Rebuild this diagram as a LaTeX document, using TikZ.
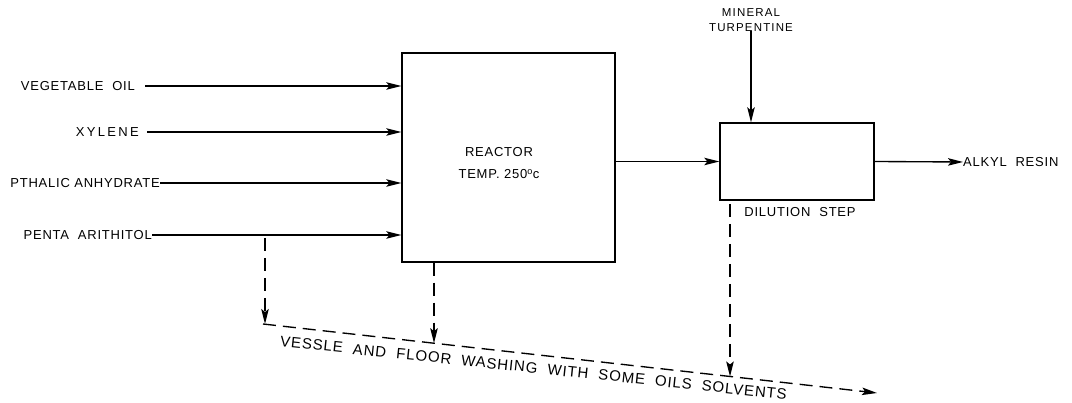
\documentclass[tikz,border=0pt]{standalone}
\usepackage{fontspec}
\setmainfont{Liberation Sans}
\newfontfamily\lsp[LetterSpace=6]{Liberation Sans}
\newfontfamily\lspw[LetterSpace=10]{Liberation Sans}
\newfontfamily\lspv[LetterSpace=6]{Liberation Sans}
\newfontfamily\lspx[LetterSpace=18]{Liberation Sans}
\usetikzlibrary{arrows.meta,calc}
\begin{document}
\begin{tikzpicture}[x=1pt,y=-1pt,
  arr/.style={line width=1.35pt,-{Stealth[length=15pt,width=7.5pt,inset=3pt]}},
  dsh/.style={arr,dash pattern=on 13pt off 7pt},
  box/.style={draw,line width=1.35pt,inner sep=0pt},
  lab/.style={inner sep=0pt,font=\fontsize{13}{15}\selectfont\lsp},
  small/.style={inner sep=0pt,align=center,font=\fontsize{11.5}{14.5}\selectfont\lspw}]
\useasboundingbox (0,0) rectangle (1072,403);
% main units
\node[box,minimum width=213pt,minimum height=209pt] (reactor) at (508.5,157.5) {};
\node[lab,align=center] (rtext) at (499,163) {REACTOR\\[7pt]TEMP. 250\textsuperscript{o}c};
\node[box,minimum width=154pt,minimum height=77pt] (dil) at (797,161.5) {};
\node[lab,anchor=north] (dstep) at (800,207) {DILUTION\ \ STEP};
\node[small] (turp) at (751,20) {MINERAL\\TURPENTINE};
\node[lab,anchor=west] (alkyl) at (963,162) {ALKYL\ \ RESIN};
% inputs
\node[lab,anchor=east] (veg) at (135,86) {VEGETABLE\ \ OIL};
\node[lab,anchor=east,font=\fontsize{13}{15}\selectfont\lspx] (xyl) at (139,132) {XYLENE};
\node[lab,anchor=east] (pth) at (160,183) {PTHALIC ANHYDRATE};
\node[lab,anchor=east] (pen) at (152,235) {PENTA\ \ ARITHITOL};
\draw[arr] ([xshift=10pt]veg.east) -- (veg.east -| reactor.west);
\draw[arr] ([xshift=8pt]xyl.east) -- (xyl.east -| reactor.west);
\draw[arr] (pth.east) -- (pth.east -| reactor.west);
\draw[arr] (pen.east) -- (pen.east -| reactor.west);
% flows
\draw[arr] (dil.west -| reactor.east) -- (dil.west);
\draw[arr] (turp.south) -- (turp.south |- dil.north);
\draw[arr] (dil.east) -- (alkyl.west);
% washing
\coordinate (tap) at (265,238);
\coordinate (c1) at (263,324);
\coordinate (wend) at (877,393);
\coordinate (rdrop) at (434,343.2);
\coordinate (dtop) at (730,204);
\coordinate (ddrop) at (730,376.5);
\draw[dsh] (tap) -- (tap |- c1);
\draw[dsh] (c1) -- (wend);
\draw[dsh] (reactor.south -| rdrop) -- (rdrop);
\draw[dsh] (dtop) -- (ddrop);
\node[inner sep=0pt,font=\fontsize{15}{17}\selectfont\lspv,rotate=-6,anchor=base] (wash) at (533,373)
  {VESSLE\ \ AND\ \ FLOOR\ \ WASHING\ \ WITH\ \ SOME\ \ OILS\ \ SOLVENTS};
\end{tikzpicture}
\end{document}
